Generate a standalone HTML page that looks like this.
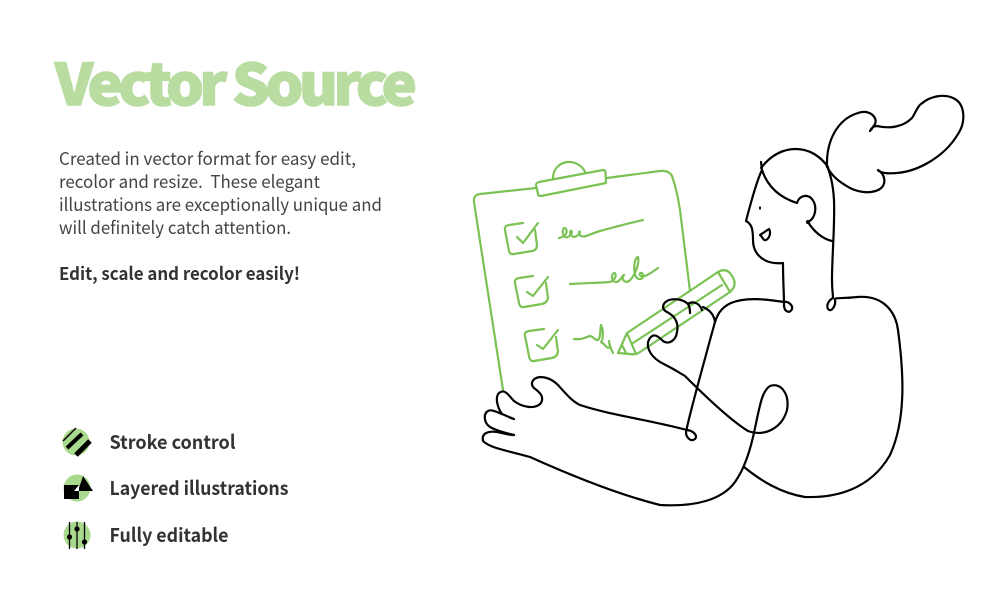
<!DOCTYPE html>
<html lang="en"><head><meta charset="utf-8"><title>Vector Source</title>
<style>
html,body{margin:0;padding:0;background:#fff;width:1005px;height:601px;overflow:hidden}
svg{display:block}
text{font-family:"Noto Sans CJK JP","Liberation Sans",sans-serif}
.b{font-size:17.5px;fill:#444}
.h{font-size:19px;font-weight:700;fill:#333}
.g{fill:none;stroke:#7bc254;stroke-width:2.2;stroke-linecap:round;stroke-linejoin:round}
.k{fill:none;stroke:#000;stroke-width:2.200;stroke-linecap:round;stroke-linejoin:round}
</style></head><body>
<svg width="1005" height="601" viewBox="0 0 1005 601" xmlns="http://www.w3.org/2000/svg">
<rect width="1005" height="601" fill="#fff"/>
<text transform="translate(55 105) scale(1.04 1)" x="0" y="0" font-size="57" font-weight="900" fill="#b9dca0" stroke="#b9dca0" stroke-width="1.500" textLength="348" lengthAdjust="spacing">Vector Source</text>
<text class="b" x="59" y="165" textLength="297" lengthAdjust="spacingAndGlyphs">Created in vector format for easy edit,</text>
<text class="b" x="59" y="188" textLength="261" lengthAdjust="spacingAndGlyphs" xml:space="preserve">recolor and resize.  These elegant</text>
<text class="b" x="59" y="211" textLength="323" lengthAdjust="spacingAndGlyphs">illustrations are exceptionally unique and</text>
<text class="b" x="59" y="234" textLength="232" lengthAdjust="spacingAndGlyphs">will definitely catch attention.</text>
<text x="59" y="280" font-size="17.5" font-weight="700" fill="#333" textLength="241" lengthAdjust="spacingAndGlyphs">Edit, scale and recolor easily!</text>

<circle cx="76" cy="442" r="13.5" fill="#a9d98c"/>
<path d="M63 441 76 428" stroke="#000" stroke-width="1.5" fill="none"/>
<path d="M67 448 82 434" stroke="#000" stroke-width="4" fill="none"/>
<path d="M76 455 90 441" stroke="#000" stroke-width="5" fill="none"/>
<text class="h" x="109.500" y="449" textLength="126" lengthAdjust="spacingAndGlyphs">Stroke control</text>

<circle cx="77" cy="488" r="13.5" fill="#a9d98c"/>
<rect x="64" y="485" width="15" height="14" fill="#000"/>
<path d="M83 476 93 491 78 491Z" fill="#000"/>
<path d="M79 485 79 491 74 491Z" fill="#fff"/>
<text class="h" x="109.500" y="495" textLength="179" lengthAdjust="spacingAndGlyphs">Layered illustrations</text>

<circle cx="77" cy="535" r="13.5" fill="#a9d98c"/>
<path d="M69.5 522V549M77 522V549M84.500 522V549" stroke="#000" stroke-width="1.300" fill="none"/>
<circle cx="69.500" cy="537" r="2.600"/><circle cx="77" cy="529" r="2.600"/><circle cx="84.500" cy="542" r="2.600"/>
<text class="h" x="109.500" y="542" textLength="119" lengthAdjust="spacingAndGlyphs">Fully editable</text>

<!-- clipboard -->
<g class="g">
<path d="M536 188 480 194Q473 195 474 202L503 390"/>
<path d="M607 178 660 171Q669 170 672 176 677 190 680 210L690 291"/>
<path d="M539 182 603 170Q605 170 605.500 172L606 183 541 196Q538 196 538 194L536 185Q536 183 539 182Z"/>
<path d="M553 178C553 168 561 162 569 162 577 162 583 167 585 172"/>
<path d="M523 223 509 225Q504 226 505 230L509 251Q510 255 514 254L532 251Q537 250 537 245L535 230"/>
<path d="M517 237 523 243 538 223"/>
<path d="M533 276 519 278Q514 279 515 283L519 303Q520 308 524 307L542 304Q547 303 548 298L546 283"/>
<path d="M527 292 533 296 548 277"/>
<path d="M544 329 529 331Q524 332 525 336L529 356Q530 362 534 361L552 358Q557 357 558 352L556 337"/>
<path d="M537 345 543 349 558 330"/>
<path d="M559 238C565 237 568 233 566 229 564 226 562 230 563 234 565 240 570 237 572 232 571 229 569 232 571 235 574 239 578 236 580 232 579 230 578 234 581 236 585 238 592 233 600 231 615 227 630 223 643 220"/>
<path d="M570 284C585 283 600 283 610 282 616 280 617 273 614 273 610 275 612 283 617 282 621 280 622 276 624 275 621 278 624 284 629 281 633 278 640 265 638 257 634 258 633 270 636 277 640 282 646 277 642 273 638 272 639 278 645 276 650 274 655 270 658 268"/>
<path d="M574 339C582 340 586 337 590 336 593 336 595 341 598 340 601 337 600 330 601 325 604 331 603 340 601 342 605 344 607 350 610 347L609 341C609 345 611 349 613 353"/>
<!-- pencil -->
<path d="M618 353 627 333 718 272Q727 267 732 276 738 285 730 292L640 352Q636 355 630 354Z"/>
<path d="M633 343 722 285"/>
<path d="M627 333 636 354"/>
<path d="M718 272 730 292"/>
<path d="M622 345 626 353"/>
</g>

<!-- person -->
<g class="k">
<!-- ponytail + head back -->
<path d="M870 131C872 127 874 126 877 126 890 129 903 127 912 118 916 112 917 107 921 104 930 96 945 93 955 99 965 105 966 122 958 134 945 156 915 176 885 173 880 172 878 171 878 170 885 174 887 184 880 189 870 195 855 192 845 185 835 179 829 172 826 164 830 172 833 183 834 200 835 225 832 255 832 280 832 290 833 295 833 298 829 300 826 305 828 309 831 313 836 306 835 300 834 297 840 299 857 297 880 295 895 308 898 330 904 375 906 420 890 455 870 490 835 498 805 497 780 493 760 480 744 467"/>
<path d="M827 167C826 140 838 119 858 113 869 109 878 117 875 124L871 130"/>
<!-- head top & face -->
<path d="M761 168C771 155 783 149 796 149 810 149 821 157 828 167"/>
<path d="M761 162 762 170C757 180 752 198 746 221 752 224 753 230 753 240 753 255 765 265 783 263 783 280 784 295 784 302 788 301 793 305 792 309 790 314 784 312 784 305L784 302C765 299 745 297 731 303 720 308 717 316 715 322"/>
<path d="M762 170C767 185 778 197 797 203 799 196 806 194 811 198 818 205 816 218 808 222 814 232 823 239 832 241"/>
<circle cx="808" cy="222" r="1" fill="#000"/>
<ellipse cx="760" cy="208" rx="1" ry="1.800" fill="#000" stroke="none"/>
<path d="M760 235 769 229C771 232 770 238 766 240 763 241 763 237 760 235Z"/>
<!-- hand, wrist, raised arm -->
<path d="M688 304C684 300 676 298 669 300 662 303 661 309 667 312 675 316 679 323 677 332 676 341 668 345 663 341 658 336 654 333 650 338 645 345 649 355 660 362 670 367 677 371 685 376 705 396 730 420 748 431 765 437 782 428 787 410 790 393 780 382 770 386 762 391 760 405 755 428 751 448 745 468 735 482 722 500 695 507 660 505 620 495 570 475 530 457 505 450 490 448 483 441 481 432 490 431 497 432 503 433 508 435 514 435"/>
<!-- fingers of lower hand -->
<path d="M514 435C505 433 497 431 490 427 484 423 483 414 488 411 492 408 505 416 514 419"/>
<!-- thumb and forearm up to elbow -->
<path d="M502 414C497 407 495 397 499 393 505 388 509 396 514 401 522 407 535 410 541 403 545 396 538 391 534 388 530 384 532 378 540 377 547 377 553 380 558 385 567 395 572 401 580 405 610 415 650 420 687 430 694 431 698 436 695 439 691 442 686 438 686 432 690 412 702 370 710 340L715 322C714 315 710 310 703 307"/>
<path d="M688 304C690 307 690 310 690 313M688 304C692 301 699 302 702 310"/>
</g>
</svg>
</body></html>
